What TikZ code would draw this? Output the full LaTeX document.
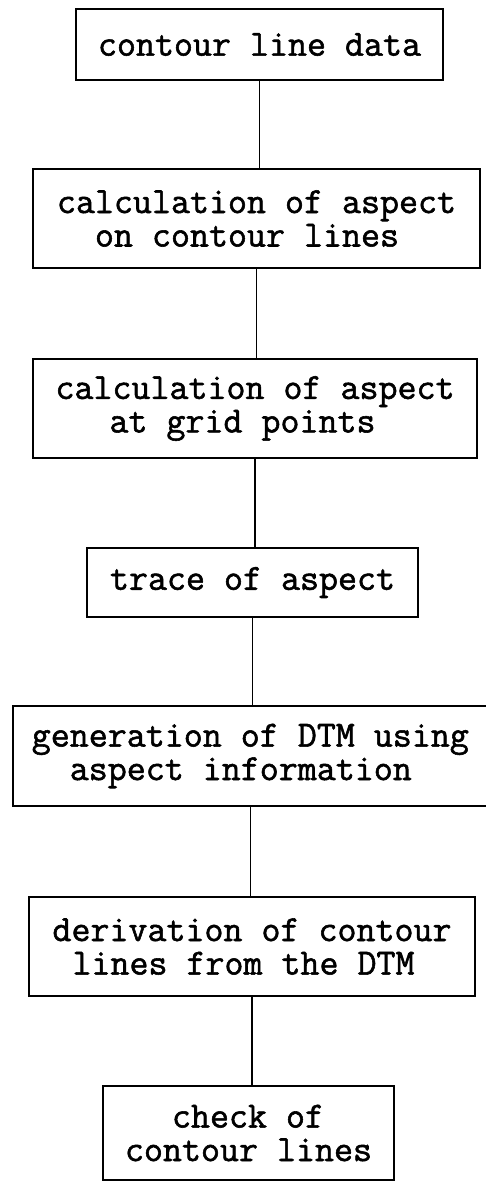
\documentclass[tikz,border=0pt]{standalone}
\usepackage{fontspec}
\setmonofont{Latin Modern Mono}[FakeBold=1.5]
\begin{document}
\begin{tikzpicture}[x=1pt,y=-1pt,
  box/.style={draw, line width=1.8pt, inner sep=0pt, align=left,
    font=\ttfamily\fontsize{36.9}{33.5}\selectfont},
  link/.style={line width=1.4pt}]
\useasboundingbox (0,0) rectangle (486,1183);
\node[box, minimum width=367pt, minimum height=71pt] (n1) at (259.5,44.5) {contour line data};
\node[box, minimum width=447pt, minimum height=99pt] (n2) at (256.5,218.5) {calculation of aspect\\\hspace{38pt}on contour lines};
\node[box, minimum width=444pt, minimum height=99pt] (n3) at (255,408.5) {calculation of aspect\\\hspace{54pt}at grid points};
\node[box, minimum width=331pt, minimum height=69pt] (n4) at (252.5,582.5) {trace of aspect};
\node[box, minimum width=475.3pt, minimum height=100pt] (n5) at (250.3,756) {generation of DTM using\\\hspace{38pt}aspect information};
\node[box, minimum width=446pt, minimum height=99pt] (n6) at (252,946.5) {derivation of contour\\\hspace{20pt}lines from the DTM};
\node[box, minimum width=291pt, minimum height=94pt] (n7) at (248.5,1133) {\hspace{47pt}check of\\contour lines};
\draw[link] (n1.south) -- (n1.south |- n2.north);
\draw[link] (n2.south) -- (n2.south |- n3.north);
\draw[link] (n3.south) -- (n3.south |- n4.north);
\draw[link] (n4.south) -- (n4.south |- n5.north);
\draw[link] (n5.south) -- (n5.south |- n6.north);
\draw[link] (n6.south) -- (n6.south |- n7.north);
\end{tikzpicture}
\end{document}
